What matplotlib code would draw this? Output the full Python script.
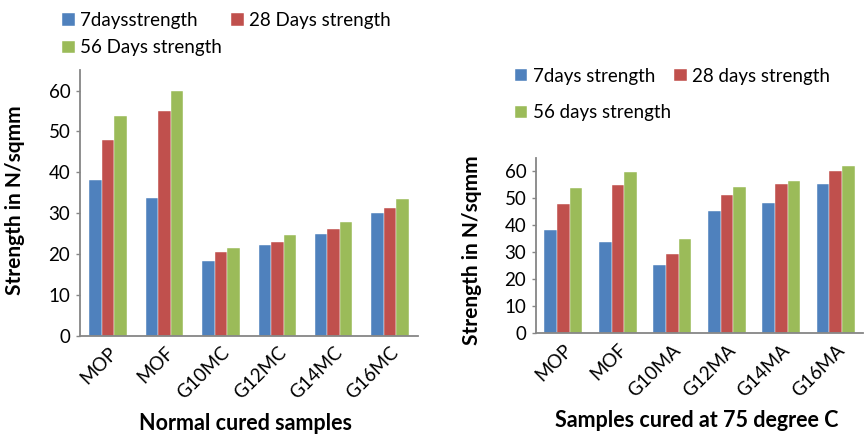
import numpy as np
import matplotlib
matplotlib.use('Agg')
import matplotlib.pyplot as plt

plt.rcParams['font.family'] = ['Lato', 'DejaVu Sans']

# left chart: normal cured samples
samples_nc = ['MOP', 'MOF', 'G10MC', 'G12MC', 'G14MC', 'G16MC']
nc_7 = [38.1, 33.8, 18.2, 22.1, 24.8, 30.1]
nc_28 = [47.8, 55.0, 20.4, 23.0, 26.1, 31.2]
nc_56 = [53.8, 59.8, 21.4, 24.7, 27.8, 33.5]
nc_names = ['7daysstrength', '28 Days strength', '56 Days strength']

# right chart: cured at 75 C
samples_ma = ['MOP', 'MOF', 'G10MA', 'G12MA', 'G14MA', 'G16MA']
ma_7 = [38.1, 33.8, 25.1, 45.4, 48.2, 55.5]
ma_28 = [47.8, 55.1, 29.2, 51.2, 55.5, 60.1]
ma_56 = [53.7, 59.8, 35.0, 54.4, 56.3, 62.2]
ma_names = ['7days strength', '28 days strength', '56 days strength']

colors = ['#4F81BD', '#C0504D', '#9BBB59']
grey = '#868686'

fig = plt.figure(figsize=(8.65, 4.34), dpi=100)
ax1 = fig.add_axes([0.0925, 0.2265, 0.391, 0.612])
ax2 = fig.add_axes([0.6197, 0.2334, 0.378, 0.4025])


def draw(ax, cats, series, names, bw, xlabel, xl_y, yl_x, yl_y):
    x = np.arange(len(cats))
    bars = []
    for i, (vals, c) in enumerate(zip(series, colors)):
        b = ax.bar(x + (i - 1) * bw, vals, bw, color=c, label=names[i],
                   edgecolor='white', linewidth=0.3)
        bars.append(b)
    ax.set_xlim(-0.5, len(cats) - 0.5)
    ax.set_ylim(0, 65)
    ax.set_yticks(range(0, 61, 10))
    ax.set_xticks(x)
    ax.set_xticklabels(cats, rotation=45, ha='right', rotation_mode='anchor',
                       fontsize=13.5)
    ax.tick_params(axis='x', length=0, pad=6)
    ax.tick_params(axis='y', length=3, width=1, color=grey, labelsize=13.5, pad=4)
    for s in ['top', 'right']:
        ax.spines[s].set_visible(False)
    for s in ['left', 'bottom']:
        ax.spines[s].set_color(grey)
        ax.spines[s].set_linewidth(1.3)
    ax.set_ylabel('Strength in N/sqmm', fontsize=15, fontweight='bold')
    ax.set_xlabel(xlabel, fontsize=15.5, fontweight='bold')
    ax.yaxis.set_label_coords(yl_x, yl_y)
    ax.yaxis.label.set_va('center')
    ax.xaxis.set_label_coords(0.49, xl_y)
    ax.xaxis.label.set_va('center')
    # matplotlib fills legend columns first, Excel fills rows first
    order = [0, 2, 1]
    return [bars[k] for k in order], [names[k] for k in order]


h1, l1 = draw(ax1, samples_nc, [nc_7, nc_28, nc_56], nc_names, 0.222,
              'Normal cured samples', -0.332, -0.192, 0.51)
h2, l2 = draw(ax2, samples_ma, [ma_7, ma_28, ma_56], ma_names, 0.23,
              'Samples cured at 75 degree C', -0.50, -0.196, 0.47)

ax1.legend(h1, l1, loc='upper left', bbox_to_anchor=(0.058, 1.0), bbox_transform=fig.transFigure,
           ncol=2, frameon=False, fontsize=13.5, handlelength=0.65, handleheight=0.65,
           handletextpad=0.3, columnspacing=0.5, labelspacing=0.55, borderpad=0.15)
ax2.legend(h2, l2, loc='upper left', bbox_to_anchor=(0.581, 0.872), bbox_transform=fig.transFigure,
           ncol=2, frameon=False, fontsize=13.5, handlelength=0.65, handleheight=0.65,
           handletextpad=0.3, columnspacing=0.2, labelspacing=1.05, borderpad=0.15)

fig.savefig('out.png', dpi=100)
